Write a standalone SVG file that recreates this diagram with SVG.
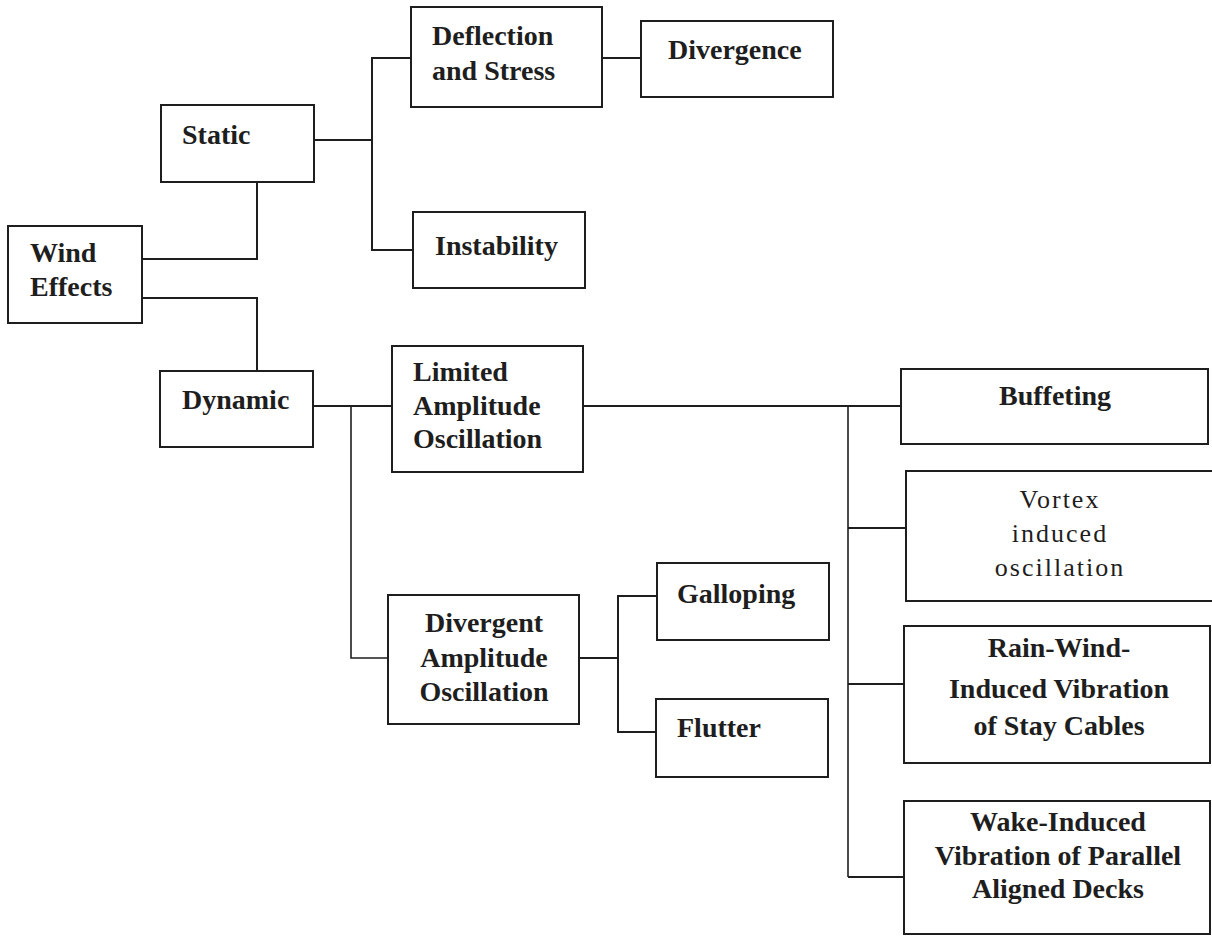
<svg xmlns="http://www.w3.org/2000/svg" width="1212" height="937" viewBox="0 0 1212 937">
<style>
.box{fill:#fff;stroke:#1e1e1e;stroke-width:2}
.c{fill:none;stroke:#1e1e1e;stroke-width:2}
.t{font-family:"Liberation Serif","Times New Roman",serif;font-size:28px;font-weight:bold;fill:#1e1e1e}
.r{font-family:"Liberation Serif","Times New Roman",serif;font-size:26px;font-weight:normal;letter-spacing:2px;fill:#1e1e1e}
.m{text-anchor:middle}
</style>
<rect width="1212" height="937" fill="#fff"/>
<g id="connectors">
<path class="c" d="M142 259 H257 V182"/>
<path class="c" d="M142 298 H257 V371"/>
<path class="c" d="M314 140 H372"/>
<path class="c" d="M411 58 H372 V250 H413"/>
<path class="c" d="M602 58 H641"/>
<path class="c" d="M313 406 H392"/>
<path class="c" d="M351 406 V658 H388" style="stroke-width:1.6"/>
<path class="c" d="M583 406 H908"/>
<path class="c" d="M848 406 V877" style="stroke-width:1.6"/>
<path class="c" d="M848 528 H906"/>
<path class="c" d="M848 684 H904"/>
<path class="c" d="M848 877 H904"/>
<path class="c" d="M579 658 H618"/>
<path class="c" d="M657 596 H618 V732 H656"/>
</g>
<g id="wind-effects">
<rect class="box" x="8" y="226" width="134" height="97"/>
<text class="t" x="30" y="262">Wind</text>
<text class="t" x="30" y="296">Effects</text>
</g>
<g id="static">
<rect class="box" x="161" y="105" width="153" height="77"/>
<text class="t" x="182" y="144">Static</text>
</g>
<g id="dynamic">
<rect class="box" x="160" y="371" width="153" height="76"/>
<text class="t" x="182" y="409">Dynamic</text>
</g>
<g id="deflection">
<rect class="box" x="411" y="7" width="191" height="100"/>
<text class="t" x="432" y="45">Deflection</text>
<text class="t" x="432" y="80">and Stress</text>
</g>
<g id="divergence">
<rect class="box" x="641" y="21" width="192" height="76"/>
<text class="t" x="668" y="59">Divergence</text>
</g>
<g id="instability">
<rect class="box" x="413" y="212" width="172" height="76"/>
<text class="t" x="435" y="255">Instability</text>
</g>
<g id="limited">
<rect class="box" x="392" y="346" width="191" height="126"/>
<text class="t" x="413" y="381">Limited</text>
<text class="t" x="413" y="415">Amplitude</text>
<text class="t" x="413" y="448">Oscillation</text>
</g>
<g id="divergent">
<rect class="box" x="388" y="595" width="191" height="129"/>
<text class="t m" x="484" y="632">Divergent</text>
<text class="t m" x="484" y="667">Amplitude</text>
<text class="t m" x="484" y="701">Oscillation</text>
</g>
<g id="galloping">
<rect class="box" x="657" y="563" width="172" height="77"/>
<text class="t" x="677" y="603">Galloping</text>
</g>
<g id="flutter">
<rect class="box" x="656" y="699" width="172" height="78"/>
<text class="t" x="677" y="737">Flutter</text>
</g>
<g id="buffeting">
<rect class="box" x="901" y="369" width="307" height="75"/>
<text class="t m" x="1055" y="405">Buffeting</text>
</g>
<g id="vortex">
<rect class="box" x="906" y="471" width="310" height="130"/>
<text class="r m" x="1060" y="508">Vortex</text>
<text class="r m" x="1060" y="542">induced</text>
<text class="r m" x="1060" y="576">oscillation</text>
</g>
<g id="rain-wind">
<rect class="box" x="904" y="626" width="306" height="137"/>
<text class="t m" x="1059" y="657">Rain-Wind-</text>
<text class="t m" x="1059" y="698">Induced Vibration</text>
<text class="t m" x="1059" y="735">of Stay Cables</text>
</g>
<g id="wake">
<rect class="box" x="904" y="801" width="306" height="133"/>
<text class="t m" x="1058" y="831">Wake-Induced</text>
<text class="t m" x="1058" y="865">Vibration of Parallel</text>
<text class="t m" x="1058" y="898">Aligned Decks</text>
</g>
</svg>
